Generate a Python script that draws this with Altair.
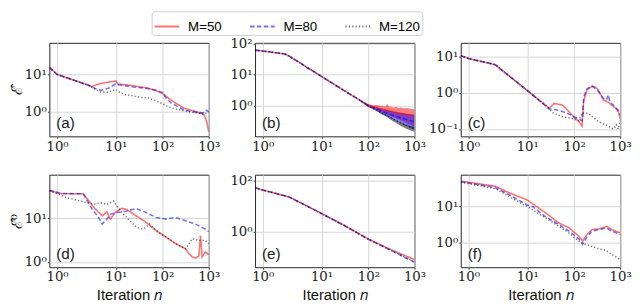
import altair as alt
import pandas as pd

SERIES = ["M=50", "M=80", "M=120"]
COLORS = ["#ff0000", "#0000ff", "#000000"]
DASHES = [[1, 0], [4.5, 2.5], [1.2, 2.2]]
PANEL_LABELS = ["(a)", "(b)", "(c)", "(d)", "(e)", "(f)"]
Y_TITLES = ["\u2130\u0302", "\u2130\u0302\u2070"]
X_TITLE = "Iteration \U0001D45B"
X_TICKS = [1, 10, 100, 1000]
Y_TICKS = [[1, 10], [1, 10, 100], [0.1, 1, 10], [1, 10], [1, 100], [1, 10]]
Y_DOMAINS = [[0.22, 72], [0.1, 105], [0.063, 24], [0.76, 98], [0.04, 177], [0.21, 76]]
X_RANGE = [0.84, 1000]

# (a)
A_N = [0.84, 1, 2, 3, 3.4, 4, 5, 7, 10, 11, 15, 20, 30, 50, 70, 100, 120, 150, 200, 300, 500, 700, 800, 900, 1000]
A_M50 = [15.7, 10.2, 6.4, 5.1, 4.8, 5.3, 5.8, 6.3, 6.8, 5.6, 5.4, 5.2, 4.8, 4.3, 3.8, 3.1, 2.6, 2.1, 1.66, 1.23, 1.04, 0.9, 0.82, 0.54, 0.29]
A_M80 = [15.7, 10.2, 6.4, 5.1, 4.6, 4.2, 3.8, 4.3, 5.65, 5.4, 5.1, 4.8, 4.5, 4.2, 3.8, 3.3, 2.3, 1.77, 1.44, 1.1, 1.0, 0.94, 0.95, 1.1, 1.0]
A_M120 = [15.7, 10.2, 6.4, 5.1, 4.6, 4.0, 3.4, 3.4, 4.0, 3.6, 2.9, 2.8, 2.5, 2.35, 2.0, 1.66, 1.45, 1.28, 1.18, 1.06, 0.94, 0.9, 0.88, 0.92, 1.0]

# (b)
B_N = [0.84, 1, 2, 2.33, 4, 5, 7, 10, 20, 30, 50, 70, 100, 150, 200, 300, 500, 700, 1000]
B_M50 = [61, 57, 46, 40, 22, 17.1, 12.3, 8.6, 4.4, 3.0, 1.88, 1.37, 0.98, 0.85, 0.75, 0.65, 0.55, 0.5, 0.47]
B_M80 = [61, 57, 46, 40, 22, 17.1, 12.3, 8.6, 4.4, 3.0, 1.88, 1.37, 0.97, 0.78, 0.63, 0.5, 0.4, 0.34, 0.3]
B_M120 = [61, 57, 46, 40, 22, 17.1, 12.3, 8.6, 4.4, 3.0, 1.88, 1.37, 0.95, 0.72, 0.55, 0.4, 0.27, 0.22, 0.18]
BB_N = [70, 100, 130, 150, 180, 200, 230, 255, 280, 300, 350, 400, 450, 500, 600, 700, 850, 1000]
BB_M50_HI = [1.4, 1.1, 1.0, 1.02, 0.97, 0.98, 0.92, 1.1, 0.9, 0.92, 0.85, 0.88, 0.82, 0.85, 0.8, 0.82, 0.77, 0.75]
BB_M50_LO = [1.33, 0.92, 0.78, 0.7, 0.62, 0.58, 0.54, 0.5, 0.47, 0.45, 0.41, 0.38, 0.35, 0.33, 0.29, 0.26, 0.23, 0.2]
BB_M80_HI = [1.38, 1.0, 0.9, 0.85, 0.79, 0.76, 0.72, 0.7, 0.68, 0.66, 0.62, 0.6, 0.58, 0.57, 0.55, 0.53, 0.51, 0.5]
BB_M80_LO = [1.33, 0.9, 0.75, 0.67, 0.58, 0.54, 0.49, 0.45, 0.42, 0.4, 0.35, 0.32, 0.29, 0.27, 0.23, 0.21, 0.18, 0.16]
BB_M120_HI = [1.35, 0.93, 0.78, 0.7, 0.62, 0.57, 0.52, 0.48, 0.45, 0.42, 0.37, 0.33, 0.3, 0.28, 0.25, 0.23, 0.21, 0.2]
BB_M120_LO = [1.3, 0.88, 0.72, 0.64, 0.55, 0.5, 0.45, 0.41, 0.38, 0.35, 0.3, 0.27, 0.24, 0.22, 0.19, 0.17, 0.15, 0.14]

# (c)
C_N50 = [0.84, 1, 2.4, 10, 29, 37, 56, 77, 100, 126, 148, 161, 190, 243, 286, 337, 432, 552, 650, 766, 904, 1000]
C_M50 = [10.6, 8.9, 6.0, 1.16, 0.376, 0.51, 0.46, 0.305, 0.21, 0.163, 0.12, 0.6, 1.2, 1.5, 1.45, 1.18, 0.63, 0.55, 0.46, 0.39, 0.34, 0.19]
C_N80 = [0.84, 1, 2.4, 10, 29, 40, 56, 77, 100, 137, 150, 161, 190, 243, 337, 432, 509, 552, 600, 766, 1000]
C_M80 = [10.6, 8.9, 6.0, 1.16, 0.36, 0.34, 0.305, 0.26, 0.22, 0.18, 0.17, 0.75, 1.3, 1.55, 1.1, 0.7, 0.65, 0.88, 0.55, 0.42, 0.25]
C_N120 = [0.84, 1, 2.4, 10, 25, 35, 56, 100, 126, 150, 205, 337, 552, 706, 832, 904, 1000]
C_M120 = [10.6, 8.9, 6.0, 1.16, 0.44, 0.28, 0.22, 0.19, 0.17, 0.28, 0.27, 0.16, 0.12, 0.1, 0.13, 0.1, 0.18]

# (d)
D_N50 = [0.84, 1, 1.11, 2.36, 3.7, 5.3, 6.6, 7.7, 9.7, 13.3, 16.8, 27, 44, 72, 118, 193, 315, 372, 439, 517, 610, 661, 718, 847, 1000]
D_M50 = [43, 38, 36, 36, 17.4, 11.3, 13.9, 9.5, 13.4, 16.8, 15.9, 11.3, 8.0, 5.2, 3.7, 2.6, 2.0, 1.54, 1.3, 1.23, 1.37, 4.0, 1.3, 1.7, 1.46]
D_N80 = [0.84, 1, 1.11, 2.36, 3.4, 4.5, 5.3, 6.6, 7.7, 10.5, 16.8, 27, 44, 72, 118, 193, 315, 517, 847, 1000]
D_M80 = [43, 39, 36.5, 36, 16, 10.4, 7.3, 9.5, 12.3, 13.4, 14.6, 16.5, 13.4, 10.4, 9.5, 10.4, 8.7, 7.3, 5.6, 4.9]
D_N120 = [0.84, 1, 1.35, 2.77, 3.7, 4.9, 6.6, 9, 10.5, 14.4, 19.8, 27.3, 37.7, 52, 72, 118, 193, 315, 439, 610, 847, 1000]
D_M120 = [41.5, 36, 29, 22.5, 20.7, 22.4, 20.7, 24.6, 19, 12.3, 8.7, 6.2, 5.6, 7.3, 5.2, 3.7, 2.6, 2.0, 3.4, 3.1, 3.1, 2.6]

# (e)
E_N = [0.84, 1, 2.33, 10, 30, 100, 300, 1000]
E_M50 = [54, 44, 24, 5.3, 1.8, 0.52, 0.2, 0.08]
E_M80 = [54, 44, 24, 5.2, 1.77, 0.5, 0.19, 0.062]
E_M120 = [54, 44, 24, 5.2, 1.77, 0.5, 0.19, 0.066]

# (f)
F_N50 = [0.84, 1, 2.4, 3.9, 10, 24.8, 47, 77, 126, 153, 190, 243, 337, 432, 509, 650, 1000]
F_M50 = [50, 47, 36.6, 25.7, 15.2, 6.6, 3.5, 2.6, 1.52, 1.1, 1.7, 2.3, 2.4, 2.6, 2.85, 2.3, 1.87]
F_N80 = [0.84, 1, 2.4, 3.9, 10, 13, 24.8, 47, 77, 126, 153, 190, 243, 337, 509, 650, 1000]
F_M80 = [48.5, 45, 33.6, 23, 11.1, 10, 5.1, 3.16, 2.1, 1.28, 0.9, 1.45, 2.1, 2.3, 2.56, 2.08, 1.7]
F_N120 = [0.84, 1, 2.4, 3.9, 10, 24.8, 47, 77, 126, 174, 337, 468, 1000]
F_M120 = [48, 43, 31.5, 20.8, 10, 4.8, 2.85, 1.87, 1.1, 0.9, 0.686, 0.63, 0.34]

SHIFT = 0.5  # axis coordinate is (n - 0.5) on a log scale


def long_df(parts):
    rows = []
    for lab, ns, vs in parts:
        for n, v in zip(ns, vs):
            rows.append({"n": n, "v": v, "M": lab})
    return pd.DataFrame(rows)


PANEL_DATA = [
    long_df([(SERIES[0], A_N, A_M50), (SERIES[1], A_N, A_M80), (SERIES[2], A_N, A_M120)]),
    long_df([(SERIES[0], B_N, B_M50), (SERIES[1], B_N, B_M80), (SERIES[2], B_N, B_M120)]),
    long_df([(SERIES[0], C_N50, C_M50), (SERIES[1], C_N80, C_M80), (SERIES[2], C_N120, C_M120)]),
    long_df([(SERIES[0], D_N50, D_M50), (SERIES[1], D_N80, D_M80), (SERIES[2], D_N120, D_M120)]),
    long_df([(SERIES[0], E_N, E_M50), (SERIES[1], E_N, E_M80), (SERIES[2], E_N, E_M120)]),
    long_df([(SERIES[0], F_N50, F_M50), (SERIES[1], F_N80, F_M80), (SERIES[2], F_N120, F_M120)]),
]

band_rows = []
for lab, lo, hi in [(SERIES[0], BB_M50_LO, BB_M50_HI), (SERIES[1], BB_M80_LO, BB_M80_HI),
                    (SERIES[2], BB_M120_LO, BB_M120_HI)]:
    for n, a, b in zip(BB_N, lo, hi):
        band_rows.append({"n": n, "lo": a, "hi": b, "M": lab})
BAND_DF = pd.DataFrame(band_rows)

XEXPR = "datum.value < 1 ? '10⁰' : datum.value < 10 ? '10¹' : datum.value < 100 ? '10²' : '10³'"
YEXPR = "datum.value < 0.5 ? '10⁻¹' : datum.value < 5 ? '10⁰' : datum.value < 50 ? '10¹' : '10²'"

legend = alt.Legend(
    orient="none", legendX=104, legendY=-32, direction="horizontal",
    symbolType="stroke", symbolSize=625, symbolStrokeWidth=2, symbolOpacity=0.55,
    labelFont="Liberation Sans", labelFontSize=13.5, labelColor="#000",
    columnPadding=24, padding=2, labelOffset=8,
    strokeColor="#d0d0d0", fillColor="white", cornerRadius=3, title=None,
)
color_enc = alt.Color("M:N", scale=alt.Scale(domain=SERIES, range=COLORS), legend=legend)
dash_enc = alt.StrokeDash("M:N", scale=alt.Scale(domain=SERIES, range=DASHES), legend=legend)

W = 162
panels = []
for i in range(6):
    row, col = divmod(i, 3)
    h = 95 if row == 0 else 94
    xscale = alt.Scale(type="log", domain=[X_RANGE[0] - SHIFT, X_RANGE[1] - SHIFT], nice=False)
    xaxis = alt.Axis(values=[t - SHIFT for t in X_TICKS], labelExpr=XEXPR,
                     title=(X_TITLE if row == 1 else None))
    yscale = alt.Scale(type="log", domain=Y_DOMAINS[i], nice=False)
    yaxis = alt.Axis(values=Y_TICKS[i], labelExpr=YEXPR,
                     title=(Y_TITLES[row] if col == 0 else None),
                     titleFont="DejaVu Serif", titleFontSize=15, titlePadding=0)
    x = alt.X("u:Q", scale=xscale, axis=xaxis)
    layers = []
    if i == 1:
        band = alt.Chart(BAND_DF).transform_calculate(u=f"datum.n - {SHIFT}").mark_area(
            opacity=0.5, clip=True
        ).encode(
            x=x,
            y=alt.Y("lo:Q", scale=yscale, axis=yaxis, stack=False),
            y2="hi:Q",
            fill=alt.Fill("M:N", scale=alt.Scale(domain=SERIES, range=COLORS), legend=None),
        )
        layers.append(band)
    lines = alt.Chart(PANEL_DATA[i]).transform_calculate(u=f"datum.n - {SHIFT}").mark_line(
        opacity=0.55, strokeWidth=1.6, clip=True
    ).encode(
        x=x,
        y=alt.Y("v:Q", scale=yscale, axis=yaxis),
        color=color_enc,
        strokeDash=dash_enc,
    )
    layers.append(lines)
    lab = alt.Chart(pd.DataFrame({"t": [PANEL_LABELS[i]]})).mark_text(
        align="left", baseline="alphabetic", font="Liberation Sans", fontSize=15.5, color="#222"
    ).encode(x=alt.value(7), y=alt.value(h - 8), text="t:N")
    layers.append(lab)
    panels.append(alt.layer(*layers).properties(width=W, height=h))

chart = alt.concat(
    *panels, columns=3, spacing={"row": 39, "column": 47}, bounds="flush"
).properties(
    padding={"left": 0, "top": 0, "right": 0, "bottom": 0}
).configure_view(
    stroke="#262626", strokeWidth=1
).configure_axis(
    domain=False, grid=True, gridColor="#d0d0d0", gridWidth=0.9,
    tickColor="#333", tickSize=2, labelPadding=1,
    labelFont="DejaVu Serif", labelFontSize=13.5, labelColor="#222",
    titleFont="Liberation Sans", titleFontSize=15, titleFontWeight="normal", titleColor="#111",
    labelFlush=False, labelOverlap=False,
)

chart.save("out.html", embed_options={"renderer": "svg", "actions": False})
